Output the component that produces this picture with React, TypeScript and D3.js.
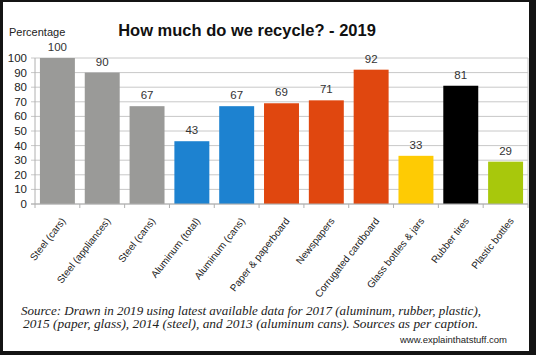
import React from "react";
import * as d3 from "d3";

const categories = [
  "Steel (cars)",
  "Steel (appliances)",
  "Steel (cans)",
  "Aluminum (total)",
  "Aluminum (cans)",
  "Paper & paperboard",
  "Newspapers",
  "Corrugated cardboard",
  "Glass bottles & jars",
  "Rubber tires",
  "Plastic bottles",
];
const values = [100, 90, 67, 43, 67, 69, 71, 92, 33, 81, 29];
const materials = [
  "steel", "steel", "steel", "aluminum", "aluminum",
  "paper", "paper", "paper", "glass", "rubber", "plastic",
];
const yTicks = [0, 10, 20, 30, 40, 50, 60, 70, 80, 90, 100];
const title = "How much do we recycle? - 2019";
const yLabel = "Percentage";
const sourceLines = [
  "Source: Drawn in 2019 using latest available data for 2017 (aluminum, rubber, plastic),",
  "2015 (paper, glass), 2014 (steel), and 2013 (aluminum cans). Sources as per caption.",
];
const credit = "www.explainthatstuff.com";

const colorMap: Record<string, string> = {
  steel: "#9a9a98",
  aluminum: "#1d82d0",
  paper: "#e0470f",
  glass: "#fecb04",
  rubber: "#000000",
  plastic: "#a8c80c",
};

export default function App() {
  const W = 536, H = 355;
  const left = 35, right = 528, top = 58, bottom = 204;
  const x = d3.scaleBand<string>().domain(categories).range([left, right]).paddingInner(0.22).paddingOuter(0.11);
  const y = d3.scaleLinear().domain([0, 100]).range([bottom, top]);
  const step = x.step();
  const sans = "'Liberation Sans', Arial, sans-serif";

  return (
    <svg width={W} height={H} style={{ position: "absolute", left: 0, top: 0 }} fontFamily={sans}>
      <rect x={0} y={0} width={W} height={H} fill="#141414" />
      <rect x={3} y={2} width={526} height={349} fill="#ffffff" />
      {/* gridlines */}
      {yTicks.map((t) => (
        <line key={"g" + t} x1={left - 4} x2={right} y1={y(t)} y2={y(t)} stroke="#c8c8c8" strokeWidth={1} />
      ))}
      <line x1={right} x2={right} y1={top} y2={bottom} stroke="#c8c8c8" />
      {/* y tick labels */}
      {yTicks.map((t) => (
        <text key={"yl" + t} x={left - 8} y={y(t)} dy="0.35em" textAnchor="end" fontSize={11.5} fill="#222">
          {t}
        </text>
      ))}
      {/* bars */}
      {categories.map((c, i) => (
        <rect key={"b" + i} x={x(c)} y={y(values[i])} width={x.bandwidth()} height={bottom - y(values[i])} fill={colorMap[materials[i]]} />
      ))}
      {/* value labels */}
      {categories.map((c, i) => (
        <text key={"v" + i} x={(x(c) as number) + x.bandwidth() / 2} y={y(values[i]) - 7} textAnchor="middle" fontSize={11.5} fill="#333">
          {values[i]}
        </text>
      ))}
      {/* axes */}
      <line x1={left} x2={left} y1={top} y2={bottom} stroke="#b0b0b0" />
      <line x1={left - 4} x2={right} y1={bottom} y2={bottom} stroke="#b0b0b0" />
      {d3.range(categories.length + 1).map((i) => (
        <line key={"t" + i} x1={left + i * step} x2={left + i * step} y1={bottom} y2={bottom + 4} stroke="#b0b0b0" />
      ))}
      {/* x labels */}
      {categories.map((c, i) => {
        const cx = (x(c) as number) + x.bandwidth() / 2 + 6;
        const cy = bottom + 15;
        return (
          <text key={"xl" + i} transform={`translate(${cx},${cy}) rotate(-52)`} textAnchor="end" dy="0.35em" fontSize={10} fill="#222">
            {c}
          </text>
        );
      })}
      {/* title */}
      <text x={247} y={36} textAnchor="middle" fontSize={16.5} fontWeight="bold" fill="#111">
        {title}
      </text>
      <text x={9} y={36} fontSize={11} fill="#222">{yLabel}</text>
      {/* source */}
      <text x={21} y={315} fontSize={12.5} fontStyle="italic" fontFamily="'Liberation Serif', 'DejaVu Serif', serif" fill="#222" textLength={460} lengthAdjust="spacingAndGlyphs">
        {sourceLines[0]}
      </text>
      <text x={23} y={327.5} fontSize={12.5} fontStyle="italic" fontFamily="'Liberation Serif', 'DejaVu Serif', serif" fill="#222" textLength={455} lengthAdjust="spacingAndGlyphs">
        {sourceLines[1]}
      </text>
      <text x={507} y={343} textAnchor="end" fontSize={9.5} fill="#222">{credit}</text>
    </svg>
  );
}
